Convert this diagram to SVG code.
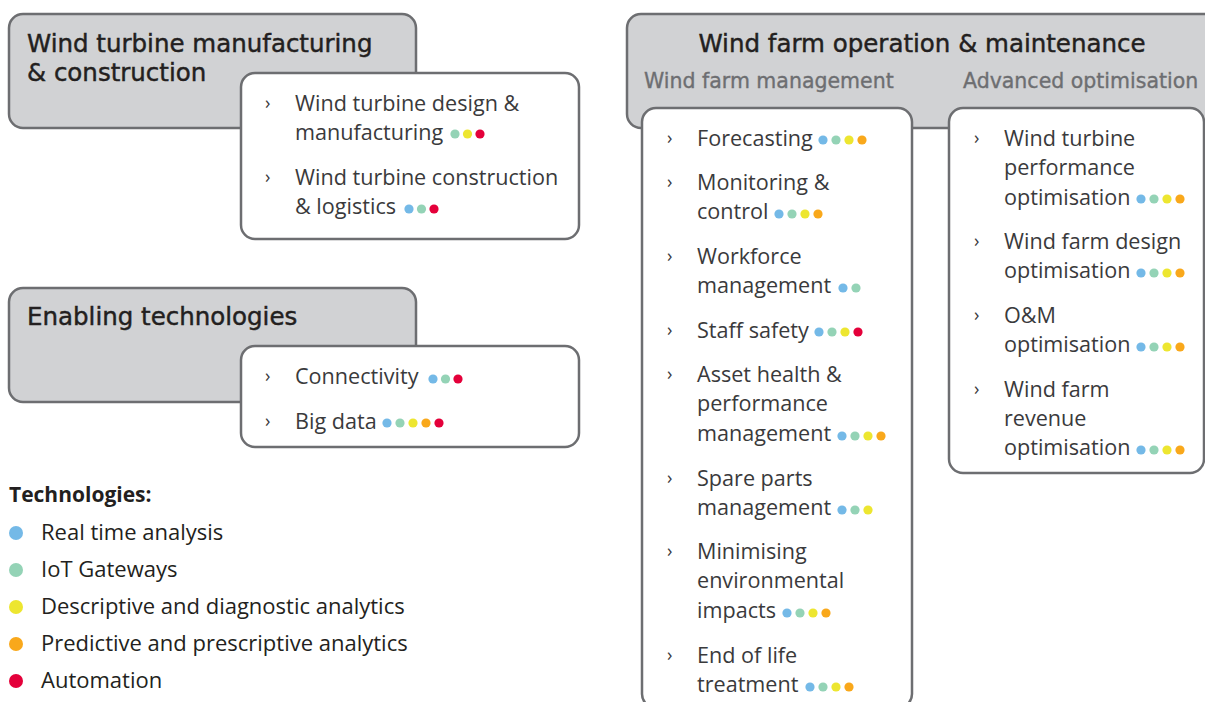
<svg xmlns="http://www.w3.org/2000/svg" width="1205" height="702" viewBox="0 0 1205 702">
<style>
.gray{fill:#d1d2d4;stroke:#6d6e71;stroke-width:2.5}
.white{fill:#ffffff;stroke:#6d6e71;stroke-width:2.5}
.title{font-family:"DejaVu Sans","Noto Sans",sans-serif;font-size:24.5px;fill:#231f20;stroke:#231f20;stroke-width:0.45}
.sub{font-family:"DejaVu Sans","Noto Sans",sans-serif;font-size:20.5px;fill:#6d6e71;stroke:#6d6e71;stroke-width:0.35}
.item{font-family:"Open Sans","Liberation Sans",sans-serif;font-size:21.6px;fill:#3a3a3c}
.chev{font-family:"Open Sans","Liberation Sans",sans-serif;font-size:18px;fill:#3a3a3c}
.leg{font-family:"Open Sans","Liberation Sans",sans-serif;font-size:22px;fill:#231f20}
.legh{font-family:"Open Sans","Liberation Sans",sans-serif;font-size:21px;font-weight:700;fill:#231f20}
.b{fill:#74b9e7}.g{fill:#94d3b6}.y{fill:#ede630}.o{fill:#f9a81b}.r{fill:#e4003a}
</style>
<defs>
<circle id="d" r="4.6"/>
</defs>
<rect width="1205" height="702" fill="#ffffff"/>

<g id="manufacturing">
<rect class="gray" x="9" y="14" width="407" height="114" rx="14"/>
<text class="title" x="27" y="52">Wind turbine manufacturing</text>
<text class="title" x="27" y="81">&amp; construction</text>
<rect class="white" x="241" y="73" width="338" height="166" rx="14"/>
<text class="chev" x="265" y="109">›</text>
<text class="item" x="295" y="111">Wind turbine design &amp;</text>
<text class="item" x="295" y="140">manufacturing</text>
<use href="#d" class="g" x="455" y="134"/><use href="#d" class="y" x="467.5" y="134"/><use href="#d" class="r" x="480" y="134"/>
<text class="chev" x="265" y="183">›</text>
<text class="item" x="295" y="185">Wind turbine construction</text>
<text class="item" x="295" y="214">&amp; logistics</text>
<use href="#d" class="b" x="409" y="209"/><use href="#d" class="g" x="421.5" y="209"/><use href="#d" class="r" x="434" y="209"/>
</g>

<g id="enabling">
<rect class="gray" x="9" y="288" width="407" height="114" rx="14"/>
<text class="title" x="27" y="325">Enabling technologies</text>
<rect class="white" x="241" y="346" width="338" height="101" rx="14"/>
<text class="chev" x="265" y="382">›</text>
<text class="item" x="295" y="384">Connectivity</text>
<use href="#d" class="b" x="433" y="379"/><use href="#d" class="g" x="445.5" y="379"/><use href="#d" class="r" x="458" y="379"/>
<text class="chev" x="265" y="427">›</text>
<text class="item" x="295" y="429">Big data</text>
<use href="#d" class="b" x="387" y="423"/><use href="#d" class="g" x="400" y="423"/><use href="#d" class="y" x="413" y="423"/><use href="#d" class="o" x="426" y="423"/><use href="#d" class="r" x="439" y="423"/>
</g>

<g id="legend">
<text class="legh" x="9" y="502">Technologies:</text>
<circle class="b" cx="16" cy="533" r="7"/><text class="leg" x="41" y="540">Real time analysis</text>
<circle class="g" cx="16" cy="570" r="7"/><text class="leg" x="41" y="577">IoT Gateways</text>
<circle class="y" cx="16" cy="607" r="7"/><text class="leg" x="41" y="614">Descriptive and diagnostic analytics</text>
<circle class="o" cx="16" cy="644" r="7"/><text class="leg" x="41" y="651">Predictive and prescriptive analytics</text>
<circle class="r" cx="16" cy="681" r="7"/><text class="leg" x="41" y="688">Automation</text>
</g>

<g id="operation">
<rect class="gray" x="627" y="14" width="600" height="114" rx="14"/>
<text class="title" x="922" y="52" text-anchor="middle">Wind farm operation &amp; maintenance</text>
<text class="sub" x="644" y="88">Wind farm management</text>
<text class="sub" x="963" y="88">Advanced optimisation</text>
</g>

<g id="management">
<rect class="white" x="642" y="108" width="270" height="600" rx="14"/>
<text class="chev" x="667" y="144">›</text>
<text class="item" x="697" y="146">Forecasting</text>
<use href="#d" class="b" x="823" y="140"/><use href="#d" class="g" x="836" y="140"/><use href="#d" class="y" x="849" y="140"/><use href="#d" class="o" x="862" y="140"/>
<text class="chev" x="667" y="188">›</text>
<text class="item" x="697" y="190">Monitoring &amp;</text>
<text class="item" x="697" y="219">control</text>
<use href="#d" class="b" x="779" y="214"/><use href="#d" class="g" x="792" y="214"/><use href="#d" class="y" x="805" y="214"/><use href="#d" class="o" x="818" y="214"/>
<text class="chev" x="667" y="262">›</text>
<text class="item" x="697" y="264">Workforce</text>
<text class="item" x="697" y="293">management</text>
<use href="#d" class="b" x="843" y="288"/><use href="#d" class="g" x="856" y="288"/>
<text class="chev" x="667" y="336">›</text>
<text class="item" x="697" y="338">Staff safety</text>
<use href="#d" class="b" x="819" y="332"/><use href="#d" class="g" x="832" y="332"/><use href="#d" class="y" x="845" y="332"/><use href="#d" class="r" x="858" y="332"/>
<text class="chev" x="667" y="380">›</text>
<text class="item" x="697" y="382">Asset health &amp;</text>
<text class="item" x="697" y="411">performance</text>
<text class="item" x="697" y="441">management</text>
<use href="#d" class="b" x="842" y="436"/><use href="#d" class="g" x="855" y="436"/><use href="#d" class="y" x="868" y="436"/><use href="#d" class="o" x="881" y="436"/>
<text class="chev" x="667" y="484">›</text>
<text class="item" x="697" y="486">Spare parts</text>
<text class="item" x="697" y="515">management</text>
<use href="#d" class="b" x="842" y="510"/><use href="#d" class="g" x="855" y="510"/><use href="#d" class="y" x="868" y="510"/>
<text class="chev" x="667" y="557">›</text>
<text class="item" x="697" y="559">Minimising</text>
<text class="item" x="697" y="588">environmental</text>
<text class="item" x="697" y="618">impacts</text>
<use href="#d" class="b" x="787" y="613"/><use href="#d" class="g" x="800" y="613"/><use href="#d" class="y" x="813" y="613"/><use href="#d" class="o" x="826" y="613"/>
<text class="chev" x="667" y="661">›</text>
<text class="item" x="697" y="663">End of life</text>
<text class="item" x="697" y="692">treatment</text>
<use href="#d" class="b" x="810" y="687"/><use href="#d" class="g" x="823" y="687"/><use href="#d" class="y" x="836" y="687"/><use href="#d" class="o" x="849" y="687"/>
</g>

<g id="optimisation">
<rect class="white" x="949" y="108" width="255" height="365" rx="14"/>
<text class="chev" x="974" y="144">›</text>
<text class="item" x="1004" y="146">Wind turbine</text>
<text class="item" x="1004" y="175">performance</text>
<text class="item" x="1004" y="205">optimisation</text>
<use href="#d" class="b" x="1141" y="199"/><use href="#d" class="g" x="1154" y="199"/><use href="#d" class="y" x="1167" y="199"/><use href="#d" class="o" x="1180" y="199"/>
<text class="chev" x="974" y="247">›</text>
<text class="item" x="1004" y="249">Wind farm design</text>
<text class="item" x="1004" y="278">optimisation</text>
<use href="#d" class="b" x="1141" y="273"/><use href="#d" class="g" x="1154" y="273"/><use href="#d" class="y" x="1167" y="273"/><use href="#d" class="o" x="1180" y="273"/>
<text class="chev" x="974" y="321">›</text>
<text class="item" x="1004" y="323">O&amp;M</text>
<text class="item" x="1004" y="352">optimisation</text>
<use href="#d" class="b" x="1141" y="347"/><use href="#d" class="g" x="1154" y="347"/><use href="#d" class="y" x="1167" y="347"/><use href="#d" class="o" x="1180" y="347"/>
<text class="chev" x="974" y="395">›</text>
<text class="item" x="1004" y="397">Wind farm</text>
<text class="item" x="1004" y="426">revenue</text>
<text class="item" x="1004" y="455">optimisation</text>
<use href="#d" class="b" x="1141" y="450"/><use href="#d" class="g" x="1154" y="450"/><use href="#d" class="y" x="1167" y="450"/><use href="#d" class="o" x="1180" y="450"/>
</g>
<g id="connectors"/>
</svg>
